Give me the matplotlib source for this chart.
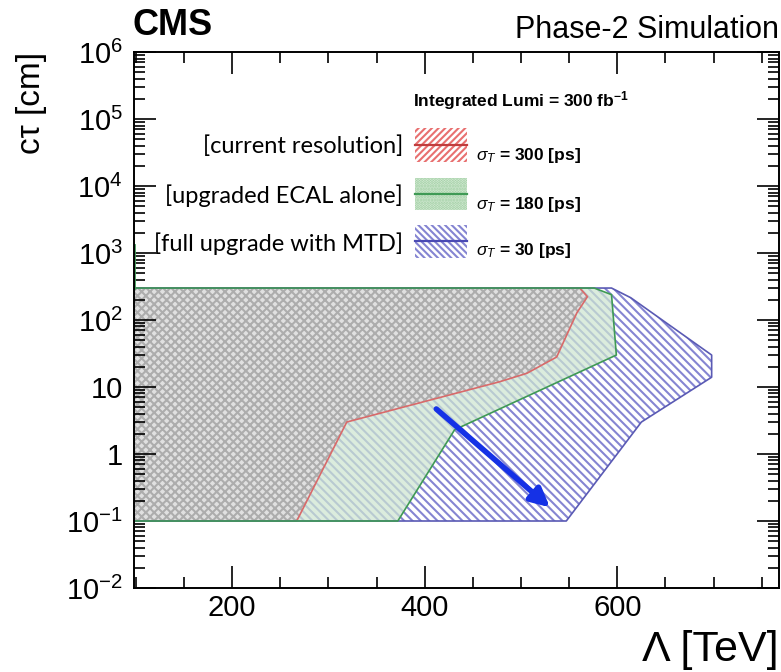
import matplotlib
matplotlib.use('Agg')
import matplotlib.pyplot as plt
import numpy as np
from matplotlib.patches import Rectangle
from matplotlib.ticker import LogLocator, NullFormatter, MultipleLocator, FixedLocator

plt.rcParams['font.family'] = ['Liberation Sans', 'DejaVu Sans']
plt.rcParams['mathtext.fontset'] = 'custom'
plt.rcParams['mathtext.rm'] = 'Liberation Sans'
plt.rcParams['mathtext.it'] = 'Liberation Sans:italic'
plt.rcParams['mathtext.bf'] = 'Liberation Sans:bold'
plt.rcParams['hatch.linewidth'] = 1.5

# sensitivity boundaries (Lambda [TeV], c*tau [cm]) for each timing resolution
lam_300 = [267, 319, 478, 506, 537, 558, 569, 561]
ct_300 = [0.1, 3.0, 12, 16, 28, 128, 223, 300]
lam_180 = [372, 431, 599, 594, 576]
ct_180 = [0.1, 2.3, 30, 239, 300]
lam_30 = [547, 625, 698, 698, 614, 594]
ct_30 = [0.1, 3.0, 14, 30, 215, 300]

lam_range = (98, 768)
ct_range = (1e-2, 1e6)
ct_spike = [300, 1300]

arrow_start = (412, 4.7)
arrow_end = (530, 0.16)

ytick_vals = [1e-2, 1e-1, 1, 10, 1e2, 1e3, 1e4, 1e5, 1e6]
ytick_labels = ['$10^{-2}$', '$10^{-1}$', '1', '10', '$10^{2}$',
                '$10^{3}$', '$10^{4}$', '$10^{5}$', '$10^{6}$']

setups = ['[current resolution]', '[upgraded ECAL alone]', '[full upgrade with MTD]']
sigmas = [300, 180, 30]


def region(lam, ct):
    xs = [lam_range[0]] + lam + [lam_range[0]]
    ys = [ct[0]] + ct + [ct[-1]]
    return xs, ys


fig = plt.figure(figsize=(7.81, 6.72), dpi=100)
ax = fig.add_axes([0.1716, 0.125, 0.8259, 0.7976])

# 30 ps: white with blue diagonal hatching
xs, ys = region(lam_30, ct_30)
ax.fill(xs, ys, facecolor='white', edgecolor='#8585d2', hatch='\\\\\\\\', linewidth=0)
# 180 ps: pale green wash
xs, ys = region(lam_180, ct_180)
ax.fill(xs, ys, facecolor='#cde5d1', edgecolor='none', alpha=0.72, linewidth=0)
# 300 ps: grey cross-hatch
xs, ys = region(lam_300, ct_300)
ax.fill(xs, ys, facecolor='#e0e0e0', edgecolor='#adadad', hatch='xxxx', linewidth=0)

# outlines
xs, ys = region(lam_300, ct_300)
ax.plot(xs, ys, color='#d86a6a', lw=1.2)
xs, ys = region(lam_30, ct_30)
ax.plot(xs, ys, color='#5a5ab4', lw=1.2)
xs, ys = region(lam_180, ct_180)
ax.plot(xs, ys, color='#3f9a55', lw=1.2)
ax.plot([lam_range[0], lam_range[0]], ct_spike, color='#3f9a55', lw=2)

ax.annotate('', xy=arrow_end, xytext=arrow_start,
            arrowprops=dict(arrowstyle='-|>', color='#1531e6', lw=4,
                            mutation_scale=28, shrinkA=0, shrinkB=0))

ax.set_yscale('log')
ax.set_xlim(*lam_range)
ax.set_ylim(*ct_range)

ax.xaxis.set_major_locator(MultipleLocator(200))
ax.xaxis.set_minor_locator(MultipleLocator(50))
ax.yaxis.set_major_locator(FixedLocator(ytick_vals))
ax.set_yticklabels(ytick_labels)
ax.yaxis.set_minor_locator(LogLocator(base=10, subs=np.arange(2, 10), numticks=100))
ax.yaxis.set_minor_formatter(NullFormatter())

ax.tick_params(which='both', direction='in', top=True, right=True, width=1.2)
ax.tick_params(which='major', length=16, labelsize=21)
ax.tick_params(which='minor', length=8)
ax.tick_params(axis='y', which='major', pad=8)
ax.tick_params(axis='x', which='major', pad=4)
for s in ax.spines.values():
    s.set_linewidth(1.4)

ax.set_xlabel('Λ [TeV]', fontsize=31, loc='right', labelpad=6)
ax.set_ylabel('cτ [cm]', fontsize=24, loc='top', labelpad=14)

fig.text(0.170, 0.936, 'CMS', fontsize=26, fontweight='bold', ha='left', va='bottom')
fig.text(0.997, 0.933, 'Phase-2 Simulation', fontsize=22, ha='right', va='bottom')

# legend block
ax.text(0.433, 0.910, 'Integrated Lumi = 300 fb$^{\\mathbf{-1}}$', transform=ax.transAxes,
        fontsize=12.5, fontweight='bold', ha='left', va='center')

box_y = [0.795, 0.705, 0.616]
box_h = [0.063, 0.060, 0.061]
box_face = ['white', '#dcefdc', 'white']
box_edge = ['#e87070', '#9ccc9f', '#8585d2']
box_hatch = ['/////', '......', '\\\\\\\\\\']
line_col = ['#c03c3c', '#3f9a55', '#4a4ab4']
label_y = [0.8246, 0.7313, 0.6418]
sigma_y = [0.8078, 0.7164, 0.6306]

for i in range(3):
    ax.add_patch(Rectangle((0.436, box_y[i]), 0.081, box_h[i], transform=ax.transAxes,
                           facecolor=box_face[i], edgecolor=box_edge[i],
                           hatch=box_hatch[i], linewidth=0, clip_on=False))
    ym = box_y[i] + box_h[i] / 2
    ax.plot([0.436, 0.517], [ym, ym], color=line_col[i], lw=1.6, transform=ax.transAxes)
    ax.text(0.417, label_y[i], setups[i], transform=ax.transAxes, fontsize=17,
            family=['Lato', 'DejaVu Sans'], ha='right', va='center')
    ax.text(0.530, sigma_y[i], f'$\\sigma_{{T}}$ = {sigmas[i]} [ps]', transform=ax.transAxes,
            fontsize=12.5, fontweight='bold', ha='left', va='center')

fig.savefig('out.png', dpi=100)
